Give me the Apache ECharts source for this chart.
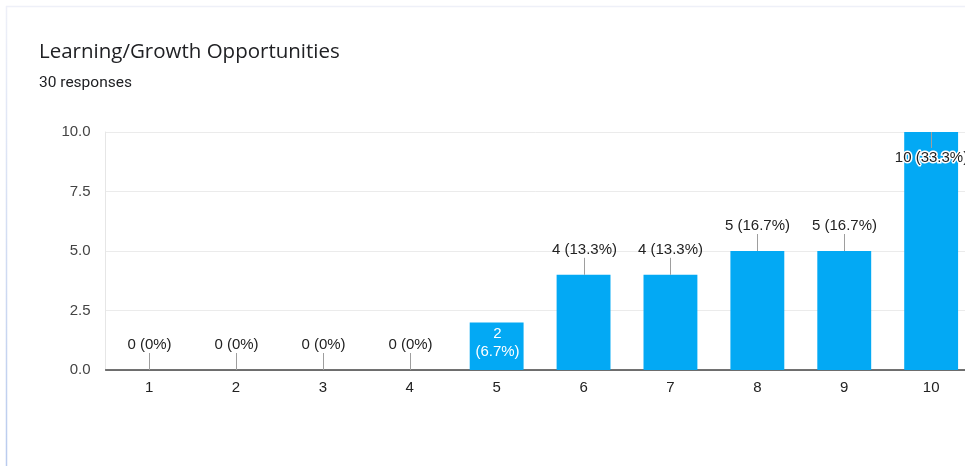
<!DOCTYPE html>
<html>
<head>
<meta charset="utf-8">
<script src="https://cdn.jsdelivr.net/npm/echarts@6/dist/echarts.min.js"></script>
<style>
  html, body { margin: 0; padding: 0; background: #fff; }
  #chart { width: 965px; height: 466px; }
</style>
</head>
<body>
<div id="chart"></div>
<script>
// Survey question results: rating scale 1-10, count of responses per rating
const titleText = 'Learning/Growth Opportunities';
const subtitleText = '30 responses';
const categories = ['1', '2', '3', '4', '5', '6', '7', '8', '9', '10'];
const counts = [0, 0, 0, 0, 2, 4, 4, 5, 5, 10];
const totalResponses = 30;
const yTicks = [0, 2.5, 5, 7.5, 10];

// Ratings whose label wraps inside the bar in white
const wrappedInside = new Set(['5']);

function pctText(v) {
  if (v === 0) return '0%';
  return (v / totalResponses * 100).toFixed(1) + '%';
}

const maxCount = Math.max(...counts);
const labelFont = '15px "Liberation Sans", Arial, sans-serif';
const guideColor = '#9e9e9e';

const chart = echarts.init(document.getElementById('chart'));

chart.setOption({
  animation: false,
  backgroundColor: '#ffffff',
  title: [
    {
      text: titleText,
      left: 34, top: 37,
      textStyle: { fontFamily: '"Open Sans", sans-serif', fontSize: 20.5, fontWeight: 'normal', color: '#202124' }
    },
    {
      text: subtitleText,
      left: 34, top: 70,
      textStyle: { fontFamily: 'Roboto, sans-serif', fontSize: 15.5, fontWeight: 'normal', color: '#202124' }
    }
  ],
  graphic: [
    {
      type: 'line', silent: true,
      shape: { x1: 6, y1: 6.5, x2: 965, y2: 6.5 },
      style: { stroke: '#eef0f8', lineWidth: 1.5 }
    },
    {
      type: 'line', silent: true,
      shape: { x1: 6.5, y1: 6, x2: 6.5, y2: 466 },
      style: {
        lineWidth: 1.5,
        stroke: new echarts.graphic.LinearGradient(0, 0, 0, 1, [
          { offset: 0, color: '#eef0f8' },
          { offset: 1, color: '#b9cbee' }
        ])
      }
    }
  ],
  // plot area runs past the right edge of the page
  grid: {
    left: 105.6, width: 869, top: 132, bottom: 96,
    containLabel: false,
    outerBoundsMode: 'none'
  },
  xAxis: {
    type: 'category',
    data: categories,
    axisTick: { show: false },
    axisLine: { lineStyle: { color: '#444', width: 1.5 } },
    axisLabel: { margin: 10, color: '#222', fontFamily: '"Liberation Sans", Arial, sans-serif', fontSize: 15 }
  },
  yAxis: {
    type: 'value',
    min: yTicks[0],
    max: yTicks[yTicks.length - 1],
    interval: yTicks[1] - yTicks[0],
    axisLine: { show: true, lineStyle: { color: '#e6e6e6' } },
    axisTick: { show: false },
    splitLine: { lineStyle: { color: '#ebebeb' } },
    axisLabel: {
      margin: 15,
      color: '#444',
      fontFamily: '"Liberation Sans", Arial, sans-serif',
      fontSize: 15,
      formatter: v => v.toFixed(1)
    }
  },
  series: [
    {
      type: 'bar',
      data: counts,
      barCategoryGap: '38%',
      itemStyle: { color: '#03a9f4' },
      z: 2
    },
    {
      // value annotations with short guide lines
      type: 'custom',
      data: categories.map((c, i) => [i, counts[i]]),
      clip: false,
      z: 5,
      renderItem: function (params, api) {
        const idx = api.value(0);
        const v = api.value(1);
        const top = api.coord([idx, v]);
        const x = Math.round(top[0]) + 0.5;
        const y = top[1];
        const cat = categories[idx];
        const label = v + ' (' + pctText(v) + ')';
        if (wrappedInside.has(cat)) {
          return {
            type: 'text',
            style: {
              text: v + '\n(' + pctText(v) + ')',
              x: x, y: y + 20,
              align: 'center', verticalAlign: 'middle',
              font: labelFont, lineHeight: 18,
              fill: '#ffffff'
            }
          };
        }
        if (v === maxCount) {
          return {
            type: 'group',
            children: [
              { type: 'line', shape: { x1: x, y1: y, x2: x, y2: y + 16 }, style: { stroke: guideColor, lineWidth: 1 } },
              {
                type: 'text',
                style: {
                  text: label, x: x, y: y + 26,
                  align: 'center', verticalAlign: 'middle',
                  font: labelFont, fill: '#222',
                  stroke: '#ffffff', lineWidth: 3
                }
              }
            ]
          };
        }
        return {
          type: 'group',
          children: [
            { type: 'line', shape: { x1: x, y1: y, x2: x, y2: y - 17 }, style: { stroke: guideColor, lineWidth: 1 } },
            {
              type: 'text',
              style: {
                text: label, x: x, y: y - 25,
                align: 'center', verticalAlign: 'middle',
                font: labelFont, fill: '#222'
              }
            }
          ]
        };
      }
    }
  ]
});
</script>
</body>
</html>
